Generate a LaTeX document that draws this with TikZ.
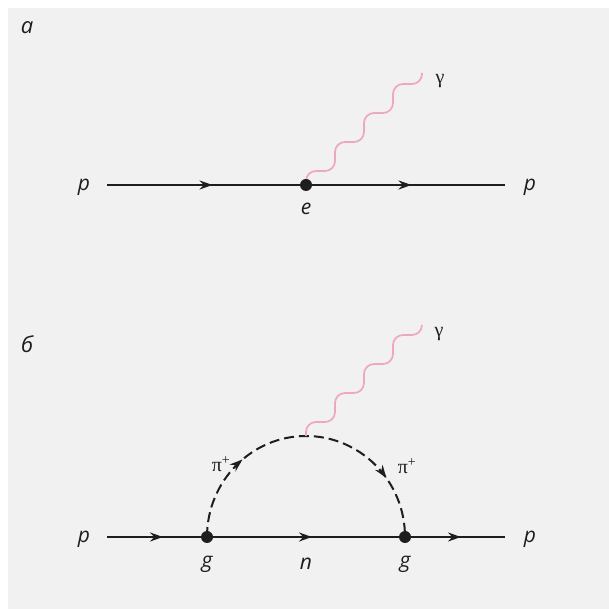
\documentclass[tikz,border=0pt]{standalone}
\usepackage{fontspec}
\setmainfont{Open Sans}
\newfontfamily\greekfont{Liberation Serif}
\usetikzlibrary{arrows.meta, decorations.markings}

\definecolor{bggray}{RGB}{241,241,241}
\definecolor{linegray}{RGB}{30,30,30}
\definecolor{photonpink}{RGB}{240,165,195}

\tikzset{
  fermion/.style={line width=2pt, linegray, postaction={decorate},
    decoration={markings, mark=at position 0.5 with {\arrow[xshift=6pt]{Stealth[length=13pt,width=9pt]}}}},
  pion/.style={line width=2pt, linegray, dash pattern=on 10pt off 5pt},
  photon/.style={line width=1.7pt, photonpink, rounded corners=10pt},
  lbl/.style={font=\fontsize{21}{24}\selectfont\itshape, text=linegray},
  panel/.style={font=\fontsize{22}{25}\selectfont\itshape, text=linegray},
  glbl/.style={font=\fontsize{20}{22}\selectfont\greekfont, text=linegray},
}

\begin{document}
\begin{tikzpicture}[x=1pt, y=1pt]

% Background with a thin white margin on the top and left
\fill[white] (0,0) rectangle (609,609);
\fill[bggray] (8,0) rectangle (609,601);
\useasboundingbox (0,0) rectangle (609,609);

% ---- Diagram a: proton emits a photon ----
\node[panel] (lab-a) at (27,581) {а};
\coordinate (a-in) at (107,424);
\coordinate (e) at (306,424);
\coordinate (a-out) at (505,424);
\coordinate (a-gam) at (422,536);

\draw[fermion] (a-in) -- (e);
\draw[fermion] (e) -- (a-out);
% photon as a rounded staircase
\draw[photon] (e) -- ++(0,14) -- ++(29,0) -- ++(0,29) -- ++(29,0) -- ++(0,29)
  -- ++(29,0) -- ++(0,29) -- ++(29,0) -- (a-gam);
\fill[linegray] (e) circle (6pt);

\node[lbl] (pa-in) at (84,422) {p};
\node[lbl] (pa-out) at (530,422) {p};
\node[lbl] (lab-e) at (306,400) {e};
\node[glbl] (gam-a) at (440,528) {γ};

% ---- Diagram b: pion loop ----
\node[panel] (lab-b) at (27,265) {б};
\coordinate (b-in) at (107,72);
\coordinate (g1) at (207,72);
\coordinate (g2) at (405,72);
\coordinate (b-out) at (505,72);
\coordinate (top) at (306,173);
\coordinate (b-gam) at (422,284);

\foreach \a/\b in {b-in/g1, g1/g2, g2/b-out} {
  \draw[fermion] (\a) -- (\b);
}
\draw[pion, postaction={decorate}, decoration={markings,
    mark=at position 0.28 with {\arrow{Stealth[length=13pt,width=9pt]}},
    mark=at position 0.80 with {\arrow{Stealth[length=13pt,width=9pt]}}}]
  (g1) arc[start angle=180, end angle=0, x radius=99pt, y radius=101pt];
\draw[photon] (top) -- ++(0,14) -- ++(29,0) -- ++(0,29) -- ++(29,0) -- ++(0,29)
  -- ++(29,0) -- ++(0,29) -- ++(29,0) -- (b-gam);
\foreach \v in {g1, g2} {
  \fill[linegray] (\v) circle (6pt);
}

\node[lbl] (pb-in) at (84,70) {p};
\node[lbl] (pb-out) at (530,70) {p};
\node[lbl] (lab-g1) at (207,45) {g};
\node[lbl] (lab-n) at (306,45) {n};
\node[lbl] (lab-g2) at (405,45) {g};
\node[glbl] (pi-l) at (221,145) {π\textsuperscript{+}};
\node[glbl] (pi-r) at (407,143) {π\textsuperscript{+}};
\node[glbl] (gam-b) at (439,275) {γ};

\end{tikzpicture}
\end{document}
